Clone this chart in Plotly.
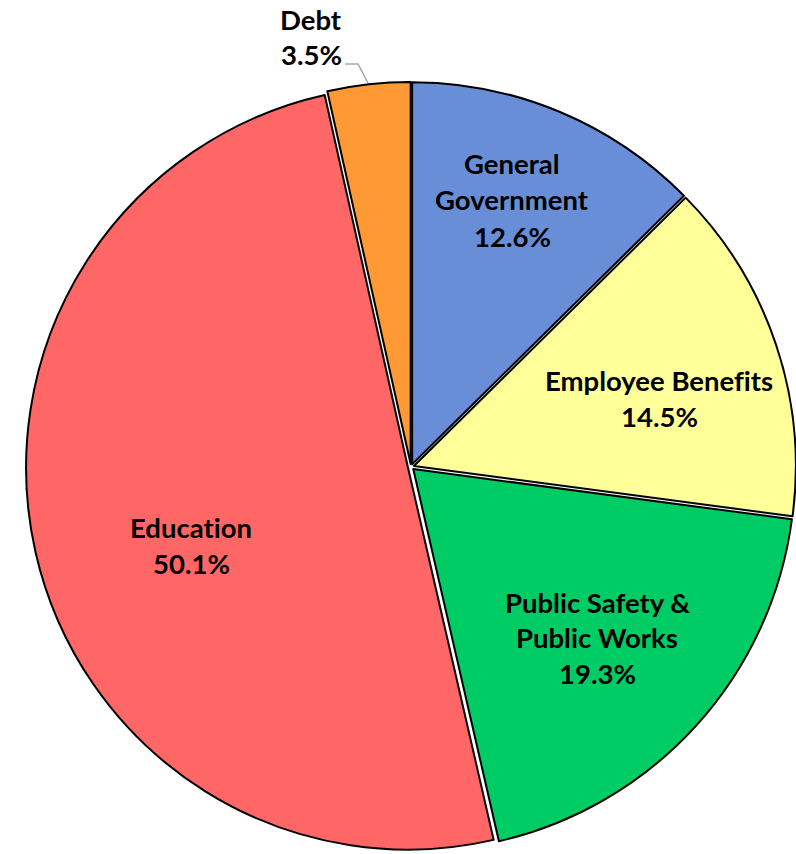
import plotly.graph_objects as go

W, H = 796, 854

categories = ["General Government", "Employee Benefits", "Public Safety & Public Works", "Education", "Debt"]
values = [12.6, 14.5, 19.3, 50.1, 3.5]
colors = ["#688ED8", "#FFFF99", "#00CC66", "#FF6666", "#FF9933"]

# label lines and their pixel centers
label_lines = [
    (["General", "Government", "12.6%"], 512, [163, 199, 237]),
    (["Employee Benefits", "14.5%"], 659, [381, 416]),
    (["Public Safety &", "Public Works", "19.3%"], 597, [602, 637, 673]),
    (["Education", "50.1%"], 191, [527, 563]),
    (["Debt", "3.5%"], 311, [19, 55]),
]

cx, cy, half = 411, 467, 385

fig = go.Figure(go.Pie(
    labels=categories,
    values=values,
    sort=False,
    direction="clockwise",
    rotation=0,
    marker=dict(colors=colors, line=dict(color="black", width=2)),
    pull=[0.008] * len(values),
    textinfo="none",
    hoverinfo="label+percent",
    showlegend=False,
    domain=dict(x=[(cx - half) / W, min(1, (cx + half) / W)],
                y=[(H - (cy + half)) / H, (H - (cy - half)) / H]),
))

annotations = []
for lines, x, ys in label_lines:
    for t, y in zip(lines, ys):
        annotations.append(dict(
            text='<span style="font-variant-ligatures:none"><b>' + t + "</b></span>",
            x=x / W, y=1 - y / H, xref="paper", yref="paper",
            showarrow=False, xanchor="center", yanchor="middle",
            font=dict(family="Lato", size=27.5, color="black"),
        ))

fig.update_layout(
    width=W, height=H,
    margin=dict(l=0, r=0, t=0, b=0),
    paper_bgcolor="white", plot_bgcolor="white",
    annotations=annotations,
    shapes=[dict(type="path", xref="paper", yref="paper",
                 path=f"M {345/W} {1-64/H} L {358/W} {1-64/H} L {368/W} {1-83/H}",
                 line=dict(color="#A6A6A6", width=1.5))],
)

fig.write_html("out.html")
